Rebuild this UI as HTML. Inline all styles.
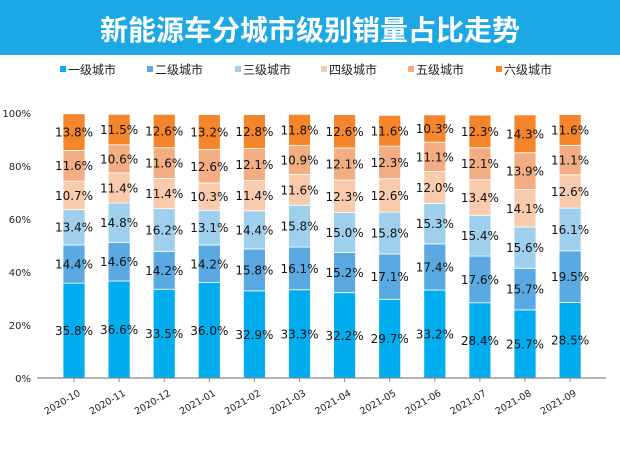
<!DOCTYPE html>
<html><head><meta charset="utf-8"><style>
body{margin:0;width:620px;height:465px;background:#fff;overflow:hidden;font-family:"DejaVu Sans","Noto Sans CJK SC",sans-serif}
</style></head><body>
<svg id="s" width="620" height="465" xmlns="http://www.w3.org/2000/svg" style="position:absolute;left:0;top:0">
<rect x="0" y="0" width="620" height="55" fill="#1ba8e4"/>
<text x="310" y="40" text-anchor="middle" font-size="28" font-weight="bold" fill="#fff" font-family="Noto Sans CJK SC, sans-serif">新能源车分城市级别销量占比走势</text>
</svg>
<script>
var s=document.getElementById('s'),NS='http://www.w3.org/2000/svg';
function el(t,a,txt){var e=document.createElementNS(NS,t);for(var k in a)e.setAttribute(k,a[k]);if(txt)e.textContent=txt;s.appendChild(e);return e;}
var cols=['#00adef','#5aa9e3','#9ed0ee','#f8cbad','#f2ad82','#f5852a'];
var names=['一级城市','二级城市','三级城市','四级城市','五级城市','六级城市'];
var lx=[60,147,235,321,408,496];
for(var i=0;i<6;i++){el('rect',{x:lx[i],y:66,width:6,height:6,fill:cols[i]});el('text',{x:lx[i]+8,y:74,'font-size':12,fill:'#222','font-family':'Noto Sans CJK SC, sans-serif'},names[i]);}
var d=[[35.8,36.6,33.5,36.0,32.9,33.3,32.2,29.7,33.2,28.4,25.7,28.5],
[14.4,14.6,14.2,14.2,15.8,16.1,15.2,17.1,17.4,17.6,15.7,19.5],
[13.4,14.8,16.2,13.1,14.4,15.8,15.0,15.8,15.3,15.4,15.6,16.1],
[10.7,11.4,11.4,10.3,11.4,11.6,12.3,12.6,12.0,13.4,14.1,12.6],
[11.6,10.6,11.6,12.6,12.1,10.9,12.1,12.3,11.1,12.1,13.9,11.1],
[13.8,11.5,12.6,13.2,12.8,11.8,12.6,11.6,10.3,12.3,14.3,11.6]];
var months=['2020-10','2020-11','2020-12','2021-01','2021-02','2021-03','2021-04','2021-05','2021-06','2021-07','2021-08','2021-09'];
var y0=378,sc=2.65;
for(var t=0;t<=5;t++){el('text',{x:31,y:y0-t*53+4,'text-anchor':'end','font-size':10,fill:'#222'},(t*20)+'%');}
for(var j=0;j<12;j++){
 var cx=74+j*45.1,y=y0;
 for(var i=0;i<6;i++){var h=d[i][j]*sc;el('rect',{x:cx-11,y:y-h,width:22,height:h,fill:cols[i],stroke:'#fff','stroke-width':0.8});
  el('text',{x:cx,y:y-h/2+4.5,'text-anchor':'middle','font-size':12,fill:'#111'},d[i][j].toFixed(1)+'%');y-=h;}
 el('line',{x1:cx,y1:y0,x2:cx,y2:y0+4,stroke:'#888'});
 el('text',{x:cx+7,y:y0+17,'text-anchor':'end','font-size':9.5,fill:'#222',transform:'rotate(-30 '+(cx+7)+' '+(y0+17)+')'},months[j]);
}
el('line',{x1:37,y1:y0,x2:606,y2:y0,stroke:'#888','stroke-width':1.2});
</script>
</body></html>
